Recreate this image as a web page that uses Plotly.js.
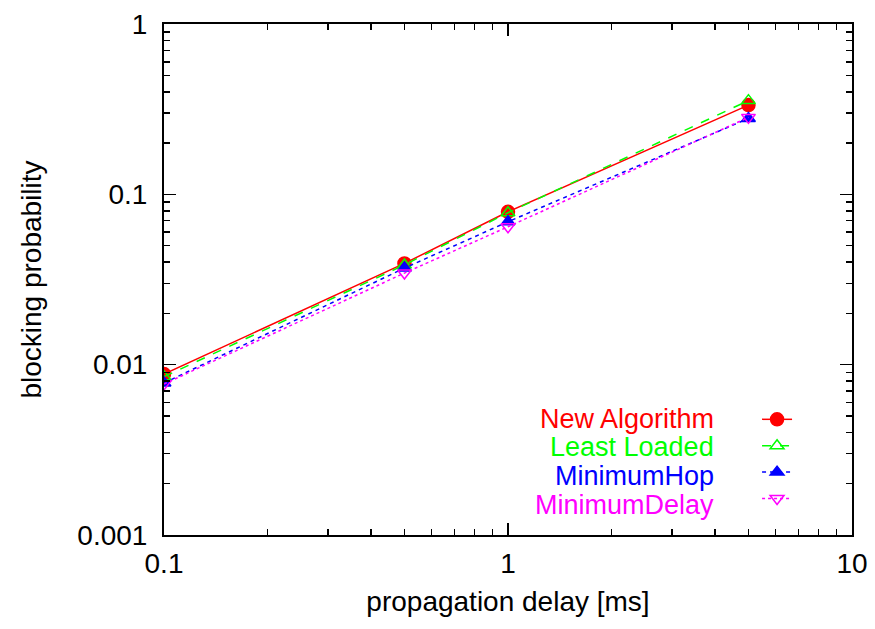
<!DOCTYPE html>
<html>
<head>
<meta charset="utf-8">
<script src="https://cdn.plot.ly/plotly-3.0.1.min.js"></script>
<style>html,body{margin:0;padding:0;background:#fff;}#chart{width:875px;height:629px;}</style>
</head>
<body>
<div id="chart"></div>
<script>
// Data
const delays = [0.1, 0.5, 1, 5];
const newAlgorithm = [0.0088, 0.0393, 0.079, 0.334];
const leastLoaded = [0.0085, 0.0385, 0.078, 0.355];
const minimumHop = [0.0078, 0.0369, 0.069, 0.279];
const minimumDelay = [0.0077, 0.0345, 0.0645, 0.283];
const seriesNames = ["New Algorithm", "Least Loaded", "MinimumHop", "MinimumDelay"];
const xTickVals = [0.1, 1, 10];
const xTickText = ["0.1", "1", "10"];
const yTickVals = [0.001, 0.01, 0.1, 1];
const yTickText = ["0.001", "0.01", "0.1", "1"];

const colors = ["#ff0000", "#00ff00", "#0000ff", "#ff00ff"];
const dashes = ["solid", "dash", "4px,4px", "dot"];
const symbols = ["circle", "triangle-up-open", "triangle-up", "triangle-down-open"];
const msizes = [13, 12, 12, 12];
const series = [newAlgorithm, leastLoaded, minimumHop, minimumDelay];
const FONT = "Liberation Sans, Arial, Helvetica, sans-serif";
const FS = 28;
const LFS = 27;

const traces = series.map((ys, i) => ({
  x: delays, y: ys, type: "scatter", mode: "lines+markers",
  name: "\u00a0", legendgroup: "g" + i,
  line: {color: colors[i], width: 1.5, dash: dashes[i]},
  marker: {color: colors[i], symbol: symbols[i], size: msizes[i], line: {color: colors[i], width: 1.5}},
  hovertemplate: seriesNames[i] + ": %{y}<extra></extra>"
}));
// invisible trace to activate mirrored axes
traces.push({x: [1], y: [0.01], xaxis: "x2", yaxis: "y2", mode: "markers", marker: {opacity: 0}, showlegend: false, hoverinfo: "skip"});

const minorCfg = {ticks: "inside", ticklen: 6, tickwidth: 1.5, tickcolor: "#000", dtick: "D1"};
const baseAxis = {
  type: "log", showgrid: false, zeroline: false, showline: true, linecolor: "#000", linewidth: 2,
  ticks: "inside", ticklen: 12, tickwidth: 1.5, tickcolor: "#000",
  minor: minorCfg, tickfont: {family: FONT, size: FS, color: "#000"}
};

const annotations = seriesNames.map((n, i) => ({
  xref: "paper", yref: "paper", x: 0.8009, y: [0.227, 0.172, 0.1155, 0.0587][i],
  xanchor: "right", yanchor: "middle", showarrow: false, text: n, borderpad: 0,
  font: {family: FONT, size: LFS, color: colors[i]}
}));

const layout = {
  width: 875, height: 629,
  margin: {l: 164, r: 23, t: 24, b: 94},
  paper_bgcolor: "#fff", plot_bgcolor: "#fff",
  font: {family: FONT, size: FS, color: "#000"},
  xaxis: Object.assign({}, baseAxis, {
    range: [-1, 1], tickvals: xTickVals, ticktext: xTickText, ticklabelstandoff: 2,
    title: {text: "propagation delay [ms]", font: {family: FONT, size: FS}, standoff: 14}
  }),
  yaxis: Object.assign({}, baseAxis, {
    range: [-3, 0], tickvals: yTickVals, ticktext: yTickText, ticklabelstandoff: 9,
    title: {text: "blocking probability", font: {family: FONT, size: FS}, standoff: 28}
  }),
  xaxis2: Object.assign({}, baseAxis, {
    overlaying: "x", side: "top", range: [-1, 1], tickvals: xTickVals, showticklabels: false
  }),
  yaxis2: Object.assign({}, baseAxis, {
    overlaying: "y", side: "right", range: [-3, 0], tickvals: yTickVals, showticklabels: false
  }),
  showlegend: true,
  legend: {x: 0.862, y: 0.262, xanchor: "left", yanchor: "top", bgcolor: "rgba(0,0,0,0)",
    borderwidth: 0, tracegroupgap: 0, font: {family: FONT, size: 18}, itemclick: false},
  annotations: annotations
};

Plotly.newPlot("chart", traces, layout, {displayModeBar: false, staticPlot: true});
</script>
</body>
</html>
